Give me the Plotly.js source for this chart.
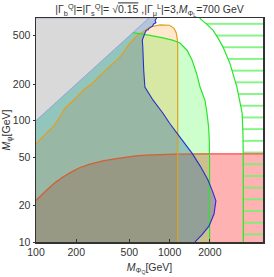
<!DOCTYPE html>
<html><head><meta charset="utf-8">
<script src="https://cdn.plot.ly/plotly-3.0.1.min.js"></script>
<style>html,body{margin:0;padding:0;background:#fff}#c{width:274px;height:277px}</style>
</head><body><div id="c"></div>
<script>
// axis ticks
const xTicks = [100, 200, 500, 1000, 2000, 5000];
const yTicks = [10, 20, 50, 100, 200, 500];
const xRange = [100, 5000];
const yRange = [10, 700];

// red boundary (M_psi limit)
const redX = [100, 110, 125, 140, 159, 185, 210, 250, 317, 400, 470, 560, 665, 850, 1110, 1990, 5000];
const redY = [22, 24.5, 27.8, 31, 34.3, 37.8, 40.7, 43.5, 46.5, 48.7, 50, 51.2, 52, 52.7, 53, 53.2, 53.2];

// inner green boundary
const greenX = [530, 600, 714, 892, 1050, 1197, 1350, 1471, 1600, 1689, 1840, 1905, 1955, 1980, 1990, 1992];
const greenY = [530, 522, 504, 480, 460, 436, 380, 316, 240, 189, 147, 115, 90, 70, 50, 10];

// outer green boundary (hatched region beyond)
const outerX = [1680, 1739, 1900, 2110, 2300, 2510, 2825, 3000, 3190, 3350, 3490, 3540, 3555, 3560];
const outerY = [700, 672, 620, 556, 480, 403, 297, 240, 189, 145, 115, 79, 50, 10];

// orange boundary
const orangeX = [100, 115, 134, 150, 165, 195, 225, 260, 301, 360, 425, 506, 580, 632, 714, 850, 1000, 1080, 1120, 1145, 1150, 1150];
const orangeY = [64, 76, 88.6, 106, 127, 150, 178, 200, 236, 280, 333, 436, 509, 537, 590, 615, 610, 575, 530, 460, 400, 10];

// dark blue boundary
const blueX = [800, 780, 790, 760, 745, 720, 700, 690, 670, 655, 640, 625, 630, 632, 640, 653, 700, 750, 892, 1000, 1195, 1471, 1700, 1937, 2100, 2221, 2150, 1970, 1750, 1550];
const blueY = [700, 670, 640, 625, 600, 590, 575, 560, 555, 530, 500, 460, 400, 333, 260, 189, 165, 148, 115, 95, 73, 54, 42, 32.4, 26, 21.8, 17, 13.5, 11.5, 10];

// kinematic (grey) boundary: M_psi = M_PhiQ
const diagX = [100, 700];
const diagY = [100, 700];

const split = 15; // index of x = 1990 in redX
const traces = [];
// red region
traces.push({x: redX.concat([5000, 100]), y: redY.concat([10, 10]), fill: 'toself', mode: 'lines',
  line: {width: 0}, fillcolor: 'rgba(255,0,0,0.3)', hoverinfo: 'skip'});
// green region
traces.push({x: [100, 100].concat(greenX, [100]), y: [10, 100].concat(greenY, [10]), fill: 'toself', mode: 'lines',
  line: {width: 0}, fillcolor: 'rgba(0,255,0,0.2)', hoverinfo: 'skip'});
// orange region
traces.push({x: orangeX.concat([100]), y: orangeY.concat([10]), fill: 'toself', mode: 'lines',
  line: {width: 0}, fillcolor: 'rgba(255,140,0,0.2)', hoverinfo: 'skip'});
// blue region
traces.push({x: blueX.concat([100, 100]), y: blueY.concat([10, 700]), fill: 'toself', mode: 'lines',
  line: {width: 0}, fillcolor: 'rgba(60,110,165,0.4)', hoverinfo: 'skip'});
// grey region
traces.push({x: diagX.concat([100]), y: diagY.concat([700]), fill: 'toself', mode: 'lines',
  line: {width: 0.8, color: 'rgba(120,120,230,0.6)'}, fillcolor: 'rgb(217,217,217)', hoverinfo: 'skip'});
// hatched region
traces.push({x: outerX.concat([5000, 5000]), y: outerY.concat([10, 700]), fill: 'toself', mode: 'lines',
  line: {width: 0, color: 'rgb(90,240,90)'}, fillcolor: 'rgba(0,0,0,0)',
  fillpattern: {shape: '-', size: 11.7, solidity: 0.14, fgcolor: 'rgb(110,245,110)', bgcolor: 'rgba(0,0,0,0)'},
  hoverinfo: 'skip'});
// boundary lines
traces.push({x: redX.slice(0, split + 1), y: redY.slice(0, split + 1), mode: 'lines', line: {color: 'rgb(212,95,50)', width: 1.3}, hoverinfo: 'skip'});
traces.push({x: redX.slice(split), y: redY.slice(split), mode: 'lines', line: {color: 'rgb(255,75,75)', width: 1.3}, hoverinfo: 'skip'});
traces.push({x: orangeX, y: orangeY, mode: 'lines', line: {color: 'rgb(225,160,30)', width: 1.2}, hoverinfo: 'skip'});
traces.push({x: greenX, y: greenY, mode: 'lines', line: {color: 'rgb(40,230,40)', width: 1.2}, hoverinfo: 'skip'});
traces.push({x: outerX, y: outerY, mode: 'lines', line: {color: 'rgb(40,230,40)', width: 1.2}, hoverinfo: 'skip'});
traces.push({x: blueX, y: blueY, mode: 'lines', line: {color: 'rgb(40,50,200)', width: 1.1}, hoverinfo: 'skip'});

const font = {family: 'Liberation Sans, Arial, sans-serif', size: 10.5, color: '#333'};
const layout = {
  width: 274, height: 277,
  margin: {l: 36, r: 11, t: 18, b: 35},
  paper_bgcolor: '#fff', plot_bgcolor: '#fff',
  showlegend: false,
  font: font,
  title: {text: '|Γ<sub>b</sub><sup>Q</sup>|=|Γ<sub>s</sub><sup>Q</sup>|= √<span style="text-decoration:overline">0.15</span> ,|Γ<sub>μ</sub><sup>L</sup>|=3,<i>M</i><sub>Φ<sub>L</sub></sub>=700 GeV',
    font: {family: 'Liberation Sans, Arial, sans-serif', size: 10.5, color: '#333'},
    x: 0.5, xref: 'paper', y: 0.965, yref: 'container', yanchor: 'middle'},
  xaxis: {type: 'log', range: [Math.log10(xRange[0]), Math.log10(xRange[1])],
    tickvals: xTicks, ticktext: xTicks.map(String), ticks: 'inside', ticklen: 3, tickcolor: '#333',
    showgrid: false, zeroline: false, showline: true, mirror: true, linecolor: '#333', linewidth: 1.5,
    title: {text: '<i>M</i><sub>Φ<sub>Q</sub></sub>[GeV]', font: font, standoff: 6}},
  yaxis: {type: 'log', range: [Math.log10(yRange[0]), Math.log10(yRange[1])],
    tickvals: yTicks, ticktext: yTicks.map(String), ticks: 'outside', ticklen: 2, tickcolor: '#333',
    showgrid: false, zeroline: false, showline: true, mirror: true, linecolor: '#333', linewidth: 1.5,
    title: {text: '<i>M</i><sub>ψ</sub>[GeV]', font: font, standoff: 4}}
};
Plotly.newPlot('c', traces, layout, {staticPlot: true, displayModeBar: false});
</script></body></html>
